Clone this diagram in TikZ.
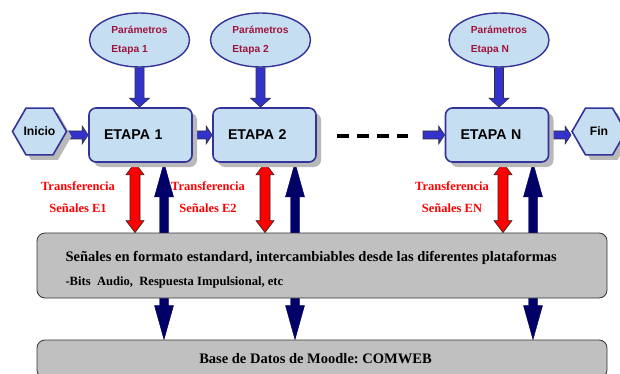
\documentclass[tikz,border=0pt]{standalone}
\usepackage{fontspec}
\setmainfont{Liberation Serif}
\setsansfont{Liberation Sans}
\usetikzlibrary{calc,shapes.geometric,shadows,backgrounds}
\definecolor{etapafill}{RGB}{198,222,241}
\definecolor{etapaline}{RGB}{51,51,153}
\definecolor{flechaazul}{RGB}{51,51,204}
\definecolor{flechanavy}{RGB}{0,0,102}
\definecolor{paramtxt}{RGB}{160,20,60}
\definecolor{grisbox}{RGB}{192,192,192}
% block arrow: style, from, to, half shaft, half head, head length
\newcommand{\flecha}[6]{%
  \path[#1] let \p1=(#2), \p2=(#3), \n1={atan2(\y2-\y1,\x2-\x1)} in
    ($(\p1)+(\n1+90:#4)$) -- ($(\p2)+(\n1+180:#6)+(\n1+90:#4)$)
    -- ($(\p2)+(\n1+180:#6)+(\n1+90:#5)$) -- (\p2)
    -- ($(\p2)+(\n1+180:#6)+(\n1-90:#5)$) -- ($(\p2)+(\n1+180:#6)+(\n1-90:#4)$)
    -- ($(\p1)+(\n1-90:#4)$) -- cycle;}
% same, with a head at both ends
\newcommand{\flechados}[6]{%
  \path[#1] let \p1=(#2), \p2=(#3), \n1={atan2(\y2-\y1,\x2-\x1)} in
    (\p1) -- ($(\p1)+(\n1:#6)+(\n1+90:#5)$) -- ($(\p1)+(\n1:#6)+(\n1+90:#4)$)
    -- ($(\p2)+(\n1+180:#6)+(\n1+90:#4)$) -- ($(\p2)+(\n1+180:#6)+(\n1+90:#5)$)
    -- (\p2) -- ($(\p2)+(\n1+180:#6)+(\n1-90:#5)$) -- ($(\p2)+(\n1+180:#6)+(\n1-90:#4)$)
    -- ($(\p1)+(\n1:#6)+(\n1-90:#4)$) -- ($(\p1)+(\n1:#6)+(\n1-90:#5)$) -- cycle;}

\begin{document}
\frenchspacing
\begin{tikzpicture}[x=1pt,y=-1pt,
  sombra/.style={drop shadow={shadow xshift=5pt,shadow yshift=-5pt,fill=gray!55,opacity=1}},
  etapa/.style={draw=etapaline,line width=1.6pt,fill=etapafill,rounded corners=7pt,
    minimum width=103pt,minimum height=54pt,inner xsep=0pt,text width=73pt,align=left,
    font=\sffamily\bfseries\fontsize{14.2}{16}\selectfont,sombra},
  hexa/.style={regular polygon,regular polygon sides=6,minimum size=54pt,inner sep=0pt,
    draw=etapaline,line width=1.6pt,fill=etapafill,
    font=\sffamily\bfseries\fontsize{12.2}{14}\selectfont,sombra},
  param/.style={ellipse,minimum width=100pt,minimum height=54pt,inner sep=0pt,
    draw=etapaline,line width=1.4pt,fill=etapafill,align=left,text=paramtxt,
    font=\sffamily\bfseries\fontsize{10.2}{19}\selectfont},
  transf/.style={align=center,text=red,font=\bfseries\fontsize{12.5}{22}\selectfont},
  gris/.style={draw=black!80,line width=0.8pt,fill=grisbox,rounded corners=8pt,
    minimum width=570pt},
  azul/.style={fill=flechaazul,draw=black!80,line width=0.6pt},
  roja/.style={fill=red,draw=black!85,line width=0.6pt},
  navy/.style={fill=flechanavy,draw=flechanavy,line width=0.4pt}]
  \useasboundingbox (0,0) rectangle (620,374);

  \foreach \k/\xe/\xb in {1/139.5/140.5,2/260.5/264.5,N/499/497}{
    \node[param] (ell\k) at (\xe,40) {Parámetros\\Etapa \k};
    \node[etapa] (etapa\k) at (\xb,135) {ETAPA \k};
  }
  \node[hexa] (inicio) at (39.5,131.5) {Inicio};
  \node[hexa] (fin) at (599,131.5) {Fin};

  \node[gris,minimum height=65pt] (sen) at (322,265.5) {};
  \node[anchor=west,font=\bfseries\fontsize{14.5}{17}\selectfont] (sen1) at (62,258)
    {Señales en formato estandard, intercambiables desde las diferentes plataformas};
  \node[anchor=west,font=\bfseries\fontsize{12.6}{15}\selectfont] (sen2) at (62,282)
    {-Bits\ \ Audio,\ \ Respuesta Impulsional, etc};
  \node[gris,minimum height=38pt] (base) at (322,359) {};
  \node[font=\bfseries\fontsize{14.5}{17}\selectfont] (basetxt) at (315.5,359)
    {Base de Datos de Moodle: COMWEB};

  \node[transf] (tr1) at (78,197) {Transferencia\\Señales E1};
  \node[transf] (tr2) at (208,197) {Transferencia\\Señales E2};
  \node[transf] (trN) at (452,197) {Transferencia\\Señales EN};

  \coordinate (dash0) at (337,136);
  \coordinate (dash1) at (408,136);
  \coordinate (inN) at (423,135);
  \draw[line width=3.5pt,dash pattern=on 12pt off 8pt] (dash0) -- (dash1);

  \begin{pgfonlayer}{background}
    \foreach \k in {1,2,N}
      \flecha{azul}{ell\k.south}{ell\k.south |- etapa\k.north}{4.5pt}{10pt}{9pt};
    \flecha{azul}{inicio.east |- etapa1.west}{etapa1.west}{4pt}{9pt}{6pt}
    \flecha{azul}{etapa1.east}{etapa2.west}{4pt}{9pt}{6pt}
    \flecha{azul}{inN}{etapaN.west}{4pt}{9pt}{6pt}
    \flecha{azul}{etapaN.east}{fin.west |- etapaN.east}{4pt}{9pt}{6pt}
    % red: stage <-> signals, navy: stage <-> database
    \foreach \k/\xr/\xn in {1/135/164,2/265/295,N/503/533}{
      \flechados{roja}{\xr,0 |- etapa\k.south}{\xr,0 |- sen.north}{5pt}{9pt}{12pt}
      \flechados{navy}{\xn,0 |- etapa\k.south}{\xn,0 |- base.north}{4.5pt}{9.5pt}{34pt}
    }
  \end{pgfonlayer}
\end{tikzpicture}
\end{document}
